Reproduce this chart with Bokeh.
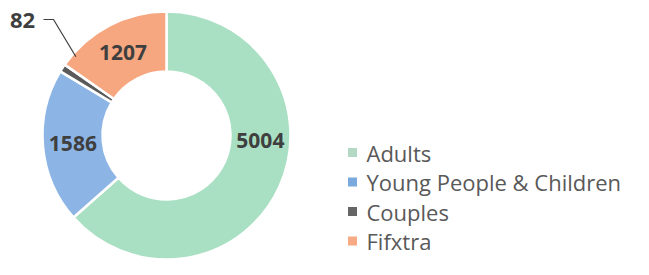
import numpy as np
from bokeh.plotting import figure
from bokeh.models import Range1d, ColumnDataSource
from bokeh.core.properties import value
from bokeh.embed import file_html
from bokeh.resources import INLINE

# ---- data ----
categories = ["Adults", "Young People & Children", "Couples", "Fifxtra"]
counts = [5004, 1586, 82, 1207]

# ---- style ----
colors = ["#A9DFC2", "#8CB5E6", "#5A5A5A", "#F6A780"]
legend_colors = ["#B3D8C4", "#7AA9DE", "#666666", "#F8AA84"]
label_color = "#3F3F3F"
legend_text_color = "#595959"
FONT = "Open Sans"

W, H = 633, 259
# data coords: x = picture pixel x, y = H - picture pixel y
p = figure(width=W, height=H, output_backend="svg", toolbar_location=None,
           x_range=Range1d(0, W), y_range=Range1d(0, H),
           min_border=0)
p.axis.visible = False
p.grid.visible = False
p.outline_line_color = None
p.background_fill_color = "white"
p.border_fill_color = "white"

cx, cy = 166, H - 135
r_out, r_in = 124, 64

vals = np.array(counts, dtype=float)
frac = vals / vals.sum()
cum_end = np.cumsum(frac)
cum_start = cum_end - frac
start = np.pi / 2 - 2 * np.pi * cum_end
end = np.pi / 2 - 2 * np.pi * cum_start
mid = (start + end) / 2

src = ColumnDataSource(dict(start=start, end=end, color=colors))
p.annular_wedge(x=cx, y=cy, inner_radius=r_in, outer_radius=r_out,
                start_angle="start", end_angle="end",
                fill_color="color", line_color="white", line_width=2.5,
                source=src)

# data labels (inside ring at mid angle; Adults label moved near 3 o'clock)
r_lab = (r_in + r_out) / 2
lab_x, lab_y, lab_t = [], [], []
for i, c in enumerate(counts):
    if categories[i] == "Couples":
        continue
    a = mid[i]
    if i == 0:
        a = np.deg2rad(-3)
    lab_x.append(cx + r_lab * np.cos(a))
    lab_y.append(cy + r_lab * np.sin(a))
    lab_t.append(str(c))
p.text(x=lab_x, y=lab_y, text=lab_t, text_align="center", text_baseline="middle",
       text_font=value(FONT), text_font_style="bold", text_font_size="21px",
       text_color=label_color)

# Couples label outside with leader line
ci = categories.index("Couples")
lx, ly = 22, H - 20
p.text(x=[lx], y=[ly], text=[str(counts[ci])], text_align="center",
       text_baseline="middle", text_font=value(FONT), text_font_style="bold",
       text_font_size="22px", text_color=label_color)
ea = mid[ci] - np.deg2rad(8)
ex, ey = cx + 120 * np.cos(ea), cy + 120 * np.sin(ea)
p.line(x=[lx + 21, lx + 31, ex], y=[ly + 1, ly + 1, ey], line_color="#404040", line_width=1.2)

# legend
leg_x = 352
leg_y0 = H - 152
leg_dy = 29.5
ly_ = [leg_y0 - i * leg_dy for i in range(len(categories))]
p.scatter(x=[leg_x] * len(categories), y=ly_, marker="square", size=9,
          fill_color=legend_colors, line_color=None)
p.text(x=[leg_x + 14] * len(categories), y=ly_, text=categories,
       text_align="left", text_baseline="middle", text_font=value(FONT),
       text_font_size="22px", text_color=legend_text_color)

open("out.html", "w").write(file_html(p, INLINE))
